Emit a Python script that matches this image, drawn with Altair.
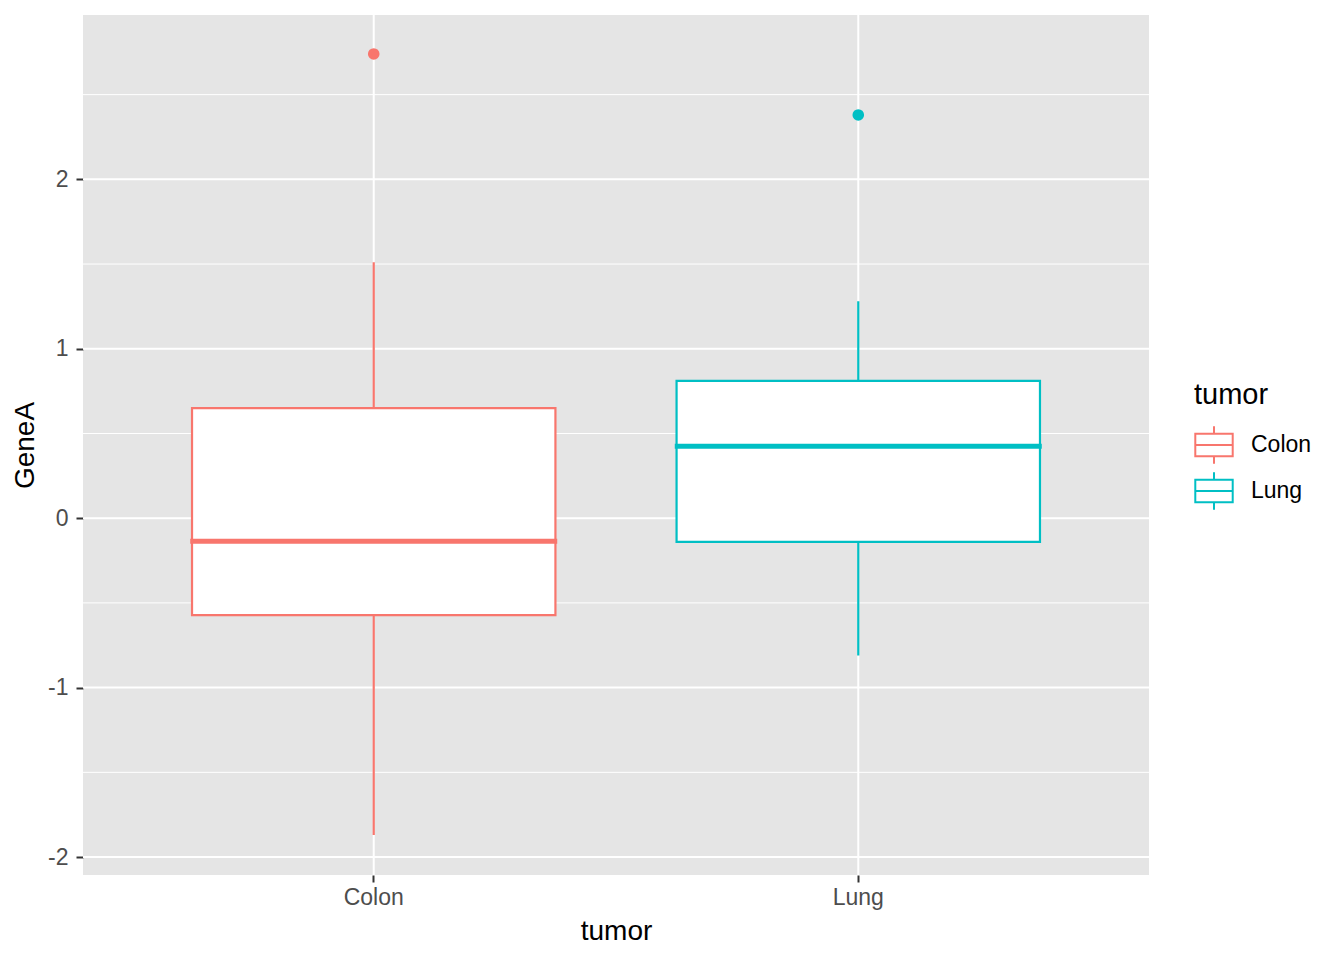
import altair as alt
import pandas as pd

tumor = ["Colon", "Lung"]
lower = [-1.87, -0.81]
q1 = [-0.572, -0.14]
median = [-0.136, 0.425]
q3 = [0.65, 0.81]
upper = [1.51, 1.28]

out_tumor = ["Colon", "Lung"]
out_val = [2.74, 2.38]

major_y = [-2, -1, 0, 1, 2]
minor_y = [-1.5, -0.5, 0.5, 1.5, 2.5]

colors = ["#F8766D", "#00BFC4"]

stats = pd.DataFrame({"tumor": tumor, "lower": lower, "q1": q1, "median": median,
                      "q3": q3, "upper": upper})
outs = pd.DataFrame({"tumor": out_tumor, "GeneA": out_val})

FONT = "Liberation Sans"
ydom = [-2.106, 2.97]

xscale = alt.Scale(domain=tumor, paddingInner=0, paddingOuter=0.1)
yscale = alt.Scale(domain=ydom, nice=False, zero=False)
cscale = alt.Scale(domain=tumor, range=colors)

xaxis = alt.Axis(title="tumor", grid=False, domain=False, labelAngle=0,
                 tickColor="#333333", tickWidth=2, tickSize=7, labelPadding=4,
                 labelColor="#4D4D4D", labelFontSize=23, labelFont=FONT,
                 titleFont=FONT, titleFontSize=28, titleFontWeight="normal",
                 titleColor="black", titlePadding=8)
yaxis = alt.Axis(title="GeneA", grid=False, domain=False, values=major_y,
                 tickColor="#333333", tickWidth=2, tickSize=7, labelPadding=8,
                 labelColor="#4D4D4D", labelFontSize=23, labelFont=FONT,
                 labelExpr="'' + datum.value",
                 titleFont=FONT, titleFontSize=28, titleFontWeight="normal",
                 titleColor="black", titlePadding=8)

X = alt.X("tumor:N", scale=xscale, axis=xaxis)

minor = alt.Chart(pd.DataFrame({"v": minor_y})).mark_rule(color="white", strokeWidth=1).encode(
    y=alt.Y("v:Q", scale=yscale, axis=yaxis))
major = alt.Chart(pd.DataFrame({"v": major_y})).mark_rule(color="white", strokeWidth=2).encode(
    y=alt.Y("v:Q", scale=yscale, axis=yaxis))
vgrid = alt.Chart(pd.DataFrame({"tumor": tumor})).mark_rule(color="white", strokeWidth=2).encode(
    x=X)

legend = alt.Legend(
    title="tumor", orient="none", legendX=1111, legendY=366,
    symbolType="M-1,-0.6H1V0.6H-1Z M-1,0H1 M0,-0.6V-1 M0,0.6V1",
    symbolSize=1400, symbolStrokeWidth=2, symbolFillColor="white", symbolOpacity=1,
    labelFont=FONT, labelFontSize=23, labelColor="black", labelOffset=17,
    titleFont=FONT, titleFontSize=29, titleFontWeight="normal", titleColor="black",
    titlePadding=15, rowPadding=0)

S = alt.Stroke("tumor:N", scale=cscale, legend=legend)

base = alt.Chart(stats)
whisk = base.mark_rule(strokeWidth=2.2, opacity=1).encode(
    x=X, y=alt.Y("lower:Q", scale=yscale, axis=yaxis), y2="upper:Q", stroke=S)

box = base.mark_bar(fill="white", strokeWidth=2.2, opacity=1,
                    width=alt.RelativeBandSize(0.75)).encode(
    x=X, y=alt.Y("q1:Q", scale=yscale, axis=yaxis), y2="q3:Q", stroke=S)

med = base.mark_tick(filled=False, thickness=2, strokeWidth=3, size=364,
                     orient="horizontal", opacity=1).encode(
    x=X, y=alt.Y("median:Q", scale=yscale, axis=yaxis), stroke=S)

pt_layers = []
for t in tumor:
    sub = outs[outs["tumor"] == t]
    pt_layers.append(
        alt.Chart(sub).mark_circle(size=135, opacity=1, strokeWidth=0,
                                   fill=colors[tumor.index(t)]).encode(
            x=X, y=alt.Y("GeneA:Q", scale=yscale, axis=yaxis)))

chart = alt.layer(minor, major, vgrid, whisk, box, med, *pt_layers).properties(
    width=1066, height=860,
    autosize=alt.AutoSizeParams(type="none"),
    padding={"left": 75, "top": 7, "right": 180, "bottom": 70},
).configure_view(fill="#E5E5E5", stroke=None)

chart.save("out.html", embed_options={"renderer": "svg", "actions": False})
